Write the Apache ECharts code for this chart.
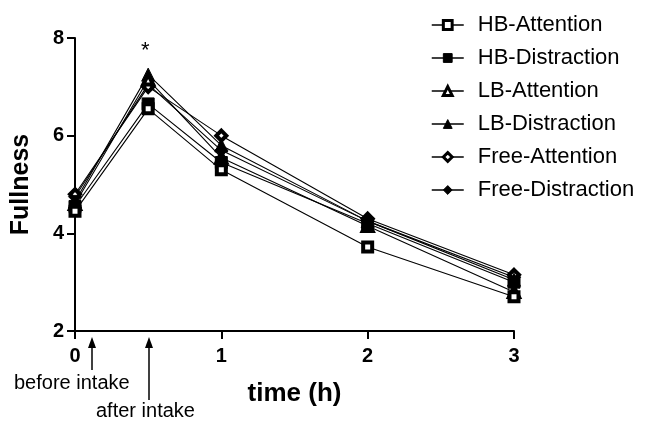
<!DOCTYPE html>
<html>
<head>
<meta charset="utf-8">
<script src="https://cdn.jsdelivr.net/npm/echarts@6/dist/echarts.min.js"></script>
<style>
  html, body { margin: 0; padding: 0; background: #fff; }
  #chart { width: 655px; height: 422px; }
</style>
</head>
<body>
<div id="chart"></div>
<script>
// time points (h)
let times = [0, 0.5, 1, 2, 3]

// fullness per condition
let hbAttention = [4.45, 6.55, 5.3, 3.72, 2.7]
let hbDistraction = [4.55, 6.65, 5.45, 4.2, 3.0]
let lbAttention = [4.6, 7.15, 5.55, 4.15, 2.8]
let lbDistraction = [4.65, 7.25, 5.8, 4.25, 3.05]
let freeAttention = [4.8, 7.0, 6.0, 4.3, 3.15]
let freeDistraction = [4.75, 7.05, 5.7, 4.25, 3.1]

let names = ['HB-Attention', 'HB-Distraction', 'LB-Attention', 'LB-Distraction', 'Free-Attention', 'Free-Distraction']
let symbols = ['rect', 'rect', 'triangle', 'triangle', 'diamond', 'diamond']
let hollow = [true, false, true, false, true, false]
let values = [hbAttention, hbDistraction, lbAttention, lbDistraction, freeAttention, freeDistraction]

let font = 'Liberation Sans, Arial'

let chart = echarts.init(document.getElementById('chart'))

function markerSize(i) {
    if (symbols[i] === 'rect') return hollow[i] ? 9 : 12
    return hollow[i] ? 10 : 13
}

function makeSeries(i) {
    return {
        name: names[i],
        type: 'line',
        data: times.map(function(t, k) { return [t, values[i][k]] }),
        symbol: symbols[i],
        symbolSize: markerSize(i),
        showAllSymbol: true,
        lineStyle: { color: '#000', width: 1.1 },
        itemStyle: {
            color: hollow[i] ? '#fff' : '#000',
            borderColor: '#000',
            borderWidth: hollow[i] ? 4 : 1
        },
        emphasis: { disabled: true },
        z: 10 - i
    }
}

// legend icons: small markers on a short line
let legendData = names.map(function(n, i) {
    return {
        name: n,
        itemStyle: {
            color: hollow[i] ? '#fff' : '#000',
            borderColor: '#000',
            borderWidth: hollow[i] ? 3 : 1
        },
        lineStyle: { color: '#000', width: 1.5 }
    }
})

let axisStyle = {
    axisLine: { show: true, lineStyle: { color: '#000', width: 2 } },
    axisTick: { show: true, length: 8, lineStyle: { color: '#000', width: 2 } },
    splitLine: { show: false }
}

let option = {
    animation: false,
    backgroundColor: '#fff',
    grid: { left: 75, top: 38, width: 439, height: 293 },
    legend: {
        orient: 'vertical',
        left: 426,
        top: 9,
        itemWidth: 32,
        itemHeight: 11,
        itemGap: 11,
        data: legendData,
        textStyle: { color: '#000', fontSize: 22, fontFamily: font, padding: [0, 0, 0, 9] }
    },
    xAxis: Object.assign({
        type: 'value',
        min: 0,
        max: 3,
        interval: 1,
        name: 'time (h)',
        nameLocation: 'middle',
        nameGap: 50,
        nameTextStyle: { color: '#000', fontSize: 26, fontWeight: 'bold', fontFamily: font },
        axisLabel: { color: '#000', fontSize: 20, fontWeight: 'bold', fontFamily: font, margin: 15 }
    }, axisStyle),
    yAxis: Object.assign({
        type: 'value',
        min: 2,
        max: 8,
        interval: 2,
        name: 'Fullness',
        nameLocation: 'middle',
        nameGap: 41,
        nameTextStyle: { color: '#000', fontSize: 25, fontWeight: 'bold', fontFamily: font },
        axisLabel: { color: '#000', fontSize: 20, fontWeight: 'bold', fontFamily: font, margin: 11 }
    }, axisStyle),
    series: names.map(function(n, i) { return makeSeries(i) }),
    graphic: [
        { type: 'text', left: 141, top: 40, style: { text: '*', fontSize: 22, fill: '#000', fontFamily: font } },
        { type: 'line', shape: { x1: 92, y1: 370, x2: 92, y2: 344 }, style: { stroke: '#000', lineWidth: 1.5 } },
        { type: 'polygon', shape: { points: [[92, 337], [88, 348], [96, 348]] }, style: { fill: '#000' } },
        { type: 'text', left: 14, top: 373, style: { text: 'before intake', fontSize: 20, fill: '#000', fontFamily: font } },
        { type: 'line', shape: { x1: 149, y1: 400, x2: 149, y2: 344 }, style: { stroke: '#000', lineWidth: 1.5 } },
        { type: 'polygon', shape: { points: [[149, 337], [145, 348], [153, 348]] }, style: { fill: '#000' } },
        { type: 'text', left: 96, top: 401, style: { text: 'after intake', fontSize: 20, fill: '#000', fontFamily: font } }
    ]
}

chart.setOption(option)
</script>
</body>
</html>
